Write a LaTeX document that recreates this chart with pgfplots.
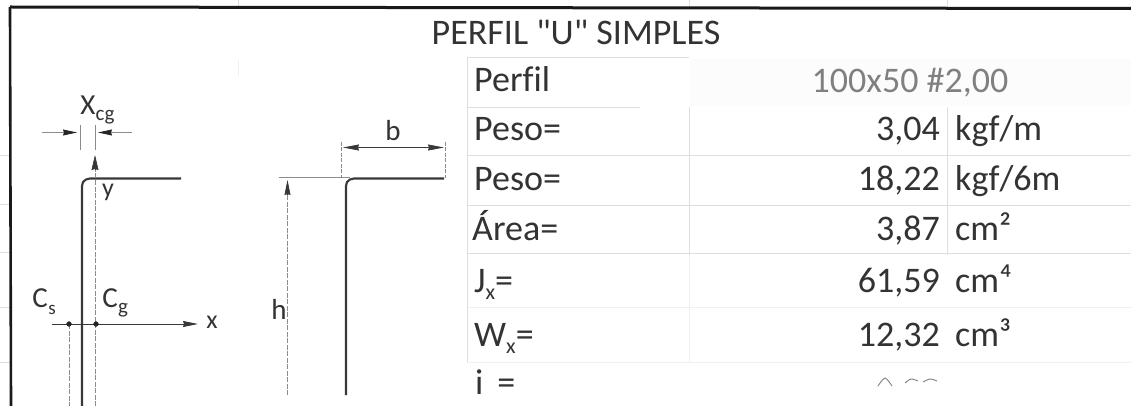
\documentclass[border=0pt]{standalone}
\usepackage{fontspec}
\setmainfont{Carlito}[Ligatures=NoCommon]
\newfontfamily\plainc{Carlito}[Ligatures=NoCommon]
\usepackage{pgfplots}
\pgfplotsset{compat=1.18}
\usetikzlibrary{arrows.meta}
\definecolor{gridc}{gray}{0.87}
\definecolor{gridf}{gray}{0.94}
\definecolor{txt}{gray}{0.2}
\definecolor{drw}{gray}{0.22}
\definecolor{dim}{gray}{0.55}
\newcommand{\subx}[1]{\raisebox{-7pt}{\fontsize{22}{22}\selectfont #1}}
\begin{document}
\begin{tikzpicture}
\begin{axis}[
    width=1131pt, height=406pt, scale only axis,
    xmin=0, xmax=1131, ymin=0, ymax=406, y dir=reverse,
    axis lines=none,
    every axis plot/.append style={no marks},
    nodes={inner sep=0pt, text=txt},
]
% speckled cell background
\addplot[fill=black!1.2, draw=none] coordinates {(690,59) (1131,59) (1131,106) (690,106)} -- cycle;
% faint spreadsheet grid
\addplot[gridc, line width=0.7pt] coordinates {(467,57) (689,57)};
\addplot[gridc, line width=0.7pt] coordinates {(467,107) (640,107)};
\addplot[gridc, line width=0.7pt] coordinates {(467,155) (1131,155)};
\addplot[gridc, line width=0.7pt] coordinates {(467,205) (1131,205)};
\addplot[gridc, line width=0.7pt] coordinates {(467,253) (1131,253)};
\addplot[gridf, line width=0.7pt] coordinates {(467,307) (1131,307)};
\addplot[gridf, line width=0.7pt] coordinates {(467,362) (1131,362)};
\addplot[gridc, line width=0.7pt] coordinates {(467,57) (467,362)};
\addplot[gridc, line width=0.7pt] coordinates {(689,107) (689,255)};
\addplot[gridf, line width=0.7pt] coordinates {(689,255) (689,362)};
\addplot[gridc, line width=0.7pt] coordinates {(947,107) (947,255)};
\addplot[gridc, line width=0.7pt] coordinates {(238,0) (238,8)};
\addplot[gridc, line width=0.7pt] coordinates {(689,0) (689,8)};
\addplot[gridc, line width=0.7pt] coordinates {(947,0) (947,8)};
\addplot[gridf, line width=0.7pt] coordinates {(238,60) (238,76)};
\addplot[gridc, line width=0.7pt] coordinates {(0,155) (10,155)};
\addplot[gridc, line width=0.7pt] coordinates {(0,204) (10,204)};
\addplot[gridc, line width=0.7pt] coordinates {(0,252) (10,252)};
\addplot[gridc, line width=0.7pt] coordinates {(0,307) (10,307)};
\addplot[gridc, line width=0.7pt] coordinates {(0,362) (10,362)};
% outer border
\addplot[black!90, line width=3pt] coordinates {(10,7) (1131,8.5)};
\addplot[black!90, line width=2.6pt] coordinates {(10,7) (11,406)};
% left section
\addplot[drw, line width=2.1pt] coordinates {(82,406) (82,186) (83,182) (86,179.5) (90,178.5) (181,178.5)};
\addplot[dim, line width=0.8pt, dash pattern=on 5pt off 1.5pt] coordinates {(95,406) (95,170)};
\addplot[drw, line width=0.6pt, -{Stealth[length=15pt,width=7pt,inset=1pt]}] coordinates {(95,170) (95,155)};
\addplot[dim, line width=0.8pt, dash pattern=on 5pt off 1.5pt] coordinates {(69,324) (69,406)};
\addplot[dim, line width=0.8pt] coordinates {(80,125) (80,150)};
\addplot[dim, line width=0.8pt] coordinates {(95,125) (95,150)};
\addplot[dim, line width=0.9pt, -{Stealth[length=14pt,width=6pt,inset=1pt,black!85]}] coordinates {(42,132.5) (77,132.5)};
\addplot[dim, line width=0.9pt, -{Stealth[length=14pt,width=6pt,inset=1pt,black!85]}] coordinates {(132,132.5) (98,132.5)};
\addplot[drw, line width=0.9pt, -{Stealth[length=15pt,width=6pt,inset=1pt]}] coordinates {(52,324) (198,324)};
\addplot[only marks, mark=*, mark size=2.4pt, black!85] coordinates {(69,324) (96,324)};
% right section
\addplot[drw, line width=2.1pt] coordinates {(346,395) (346,186) (347,182) (350,179.5) (354,178.5) (444,178.5)};
\addplot[dim, line width=0.9pt] coordinates {(279,177) (350,177)};
\addplot[dim, line width=0.8pt, dash pattern=on 4pt off 1.5pt] coordinates {(341,142) (341,177)};
\addplot[dim, line width=0.8pt, dash pattern=on 4pt off 1.5pt] coordinates {(445,142) (445,178)};
\addplot[drw, line width=0.7pt, {Stealth[length=16pt,width=6pt,inset=1pt]}-{Stealth[length=16pt,width=6pt,inset=1pt]}] coordinates {(343,147.5) (444,147.5)};
\addplot[dim, line width=0.8pt, dash pattern=on 5pt off 1.5pt] coordinates {(287.5,395) (287.5,195)};
\addplot[drw, line width=0.6pt, -{Stealth[length=15pt,width=6pt,inset=1pt]}] coordinates {(287.5,195) (287.5,180)};
% cut-off digits of the last row
\addplot[gray, line width=0.9pt, smooth] coordinates {(878,386) (885,378) (892,386)};
\addplot[gray, line width=0.9pt, smooth] coordinates {(905,383) (911,379) (918,381)};
\addplot[gray, line width=0.9pt, smooth] coordinates {(923,382) (930,379) (937,381)};
% title
\node[font=\plainc\fontsize{36}{36}\selectfont, text=black!80] at (axis cs:576,32) {PERFIL "U" SIMPLES};
% diagram labels
\node[font=\fontsize{29}{29}\selectfont] at (axis cs:88,105) {X};
\node[font=\fontsize{21}{21}\selectfont] at (axis cs:105,117) {cg};
\node[font=\fontsize{26}{26}\selectfont] at (axis cs:108,192) {y};
\node[font=\fontsize{29}{29}\selectfont] at (axis cs:40,298) {C};
\node[font=\fontsize{19}{19}\selectfont] at (axis cs:52,310) {s};
\node[font=\fontsize{29}{29}\selectfont] at (axis cs:110,298) {C};
\node[font=\fontsize{21}{21}\selectfont] at (axis cs:123,310) {g};
\node[font=\fontsize{26}{26}\selectfont] at (axis cs:212,322) {x};
\node[font=\fontsize{29}{29}\selectfont] at (axis cs:393,131) {b};
\node[font=\fontsize{29}{29}\selectfont] at (axis cs:279,309) {h};
% row labels
\begin{scope}[nodes={anchor=base west, font=\fontsize{36}{36}\selectfont}]
\node at (axis cs:474,92) {Perfil};
\node at (axis cs:474,141) {Peso=};
\node at (axis cs:474,190.5) {Peso=};
\node at (axis cs:472,240) {Área=};
\node at (axis cs:474,292) {J\subx{x}=};
\node at (axis cs:474,346) {W\subx{x}=};
\node at (axis cs:475,394) {i\hspace{14pt}=};
\node at (axis cs:955,141) {kgf/m};
\node at (axis cs:955,190.5) {kgf/6m};
\node at (axis cs:955,240) {cm²};
\node at (axis cs:955,292) {cm⁴};
\node at (axis cs:955,346) {cm³};
\end{scope}
% values
\node[anchor=base, font=\fontsize{36}{36}\selectfont, text=gray] at (axis cs:910,93) {100x50 \#2,00};
\begin{scope}[nodes={anchor=base east, font=\fontsize{36}{36}\selectfont}]
\node at (axis cs:940,141) {3,04};
\node at (axis cs:940,190.5) {18,22};
\node at (axis cs:940,240) {3,87};
\node at (axis cs:940,292) {61,59};
\node at (axis cs:940,346) {12,32};
\end{scope}
\end{axis}
\end{tikzpicture}
\end{document}
